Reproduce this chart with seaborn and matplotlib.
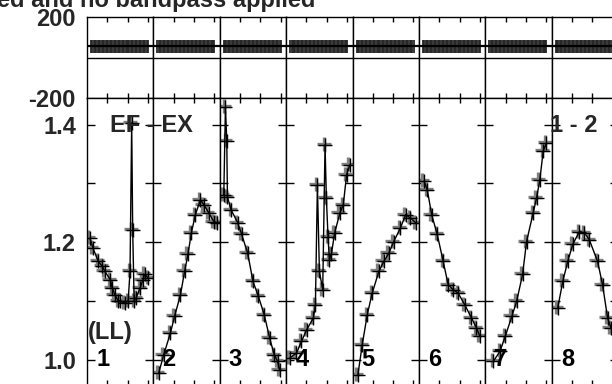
import numpy as np
import pandas as pd
import matplotlib
matplotlib.use("Agg")
import matplotlib.pyplot as plt
import matplotlib.transforms as mtransforms
import seaborn as sns

# ratio curves, one list per panel (phase within panel, ratio value)
panel_labels = ["1", "2", "3", "4", "5", "6", "7", "8"]

phase_1 = [0.045, 0.09, 0.17, 0.23, 0.27, 0.35, 0.38, 0.42, 0.47, 0.50, 0.57, 0.62,
           0.648, 0.673, 0.688, 0.71, 0.74, 0.80, 0.84, 0.87, 0.92]
ratio_1 = [1.207, 1.190, 1.167, 1.159, 1.150, 1.136, 1.122, 1.110, 1.100, 1.100, 1.096, 1.100,
           1.150, 1.403, 1.221, 1.100, 1.105, 1.122, 1.135, 1.145, 1.139]

phase_2 = [0.08, 0.155, 0.256, 0.32, 0.407, 0.47, 0.52, 0.572, 0.633, 0.708, 0.758, 0.833, 0.91, 0.96]
ratio_2 = [0.977, 1.008, 1.045, 1.074, 1.110, 1.150, 1.179, 1.216, 1.247, 1.272, 1.264, 1.250, 1.235, 1.233]

phase_3 = [0.06, 0.085, 0.105, 0.115, 0.17, 0.27, 0.33, 0.42, 0.50, 0.58, 0.67, 0.75, 0.82, 0.87, 0.90]
ratio_3 = [1.280, 1.430, 1.372, 1.277, 1.255, 1.233, 1.213, 1.181, 1.133, 1.108, 1.076, 1.037, 1.008, 0.997, 0.983]

phase_4 = [0.055, 0.155, 0.23, 0.31, 0.41, 0.44, 0.47, 0.50, 0.55, 0.585, 0.605, 0.63, 0.65, 0.68,
           0.73, 0.81, 0.86, 0.91, 0.96]
ratio_4 = [1.003, 1.011, 1.031, 1.051, 1.071, 1.093, 1.298, 1.150, 1.119, 1.366, 1.275, 1.209, 1.170, 1.179,
           1.216, 1.250, 1.264, 1.315, 1.332]

phase_5 = [0.08, 0.145, 0.22, 0.295, 0.395, 0.47, 0.545, 0.62, 0.72, 0.80, 0.87, 0.95]
ratio_5 = [0.974, 1.025, 1.076, 1.113, 1.150, 1.167, 1.181, 1.201, 1.224, 1.247, 1.241, 1.233]

phase_6 = [0.075, 0.125, 0.19, 0.275, 0.365, 0.44, 0.515, 0.59, 0.69, 0.79, 0.865, 0.915]
ratio_6 = [1.304, 1.289, 1.247, 1.213, 1.167, 1.127, 1.119, 1.113, 1.093, 1.071, 1.054, 1.040]

phase_7 = [0.12, 0.22, 0.30, 0.40, 0.47, 0.56, 0.62, 0.72, 0.77, 0.82, 0.87, 0.92]
ratio_7 = [0.997, 1.014, 1.040, 1.074, 1.099, 1.145, 1.201, 1.250, 1.275, 1.306, 1.355, 1.369]

phase_8 = [0.09, 0.165, 0.24, 0.315, 0.415, 0.49, 0.565, 0.69, 0.765, 0.84, 0.89]
ratio_8 = [1.088, 1.133, 1.167, 1.196, 1.218, 1.216, 1.204, 1.167, 1.127, 1.071, 1.054]

phases = [phase_1, phase_2, phase_3, phase_4, phase_5, phase_6, phase_7, phase_8]
ratios = [ratio_1, ratio_2, ratio_3, ratio_4, ratio_5, ratio_6, ratio_7, ratio_8]

# residual strip on top (same in every panel)
resid_phase = [0.06, 0.08, 0.10, 0.12, 0.14, 0.16, 0.18, 0.20, 0.22, 0.24, 0.26, 0.28, 0.30,
               0.32, 0.34, 0.36, 0.38, 0.40, 0.42, 0.44, 0.46, 0.48, 0.50, 0.52, 0.54, 0.56,
               0.58, 0.60, 0.62, 0.64, 0.66, 0.68, 0.70, 0.72, 0.74, 0.76, 0.78, 0.80, 0.82,
               0.84, 0.86, 0.88, 0.90, 0.92]
resid_level = 55
resid_err = 31

rows = []
for lab, ph, ra in zip(panel_labels, phases, ratios):
    for p, r in zip(ph, ra):
        rows.append({"panel": lab, "phase": p, "ratio": r})
df = pd.DataFrame(rows)

sns.set_theme(style="white")
plt.rcParams["font.family"] = ["Liberation Sans", "DejaVu Sans"]
plt.rcParams["font.weight"] = "bold"

W, H = 612, 384
fig = plt.figure(figsize=(W / 100, H / 100), dpi=100)

pw = 66.4
x0 = 87
for i, lab in enumerate(panel_labels):
    left = (x0 + i * pw) / W
    ax_top = fig.add_axes([left, 1 - 98 / H, pw / W, 81 / H])
    ax_bot = fig.add_axes([left, -1 / H, pw / W, 287 / H])

    # top strip
    ax_top.errorbar(resid_phase, [resid_level] * len(resid_phase), yerr=resid_err,
                    fmt="none", ecolor="0.15", elinewidth=1.3, capsize=0)
    ax_top.axhline(resid_level, color="black", lw=1.6)
    ax_top.axhline(0, color="black", lw=1.0)
    ax_top.set_ylim(-200, 200)
    ax_top.set_xlim(0, 1)
    ax_top.set_yticks([-200, 200])
    ax_top.set_xticks([0.305, 0.61, 0.915])
    ax_top.set_xticklabels([])
    ax_top.tick_params(axis="x", which="both", direction="in", length=3.5, width=1,
                       top=True, bottom=True, color="black")
    ax_top.tick_params(axis="y", direction="in", length=0, pad=8, labelsize=17)
    if i == 0:
        ax_top.set_yticklabels(["-200", "200"], fontweight="bold")
    else:
        ax_top.set_yticklabels([])

    # ratio curve
    sub = df[df["panel"] == lab]
    shadow = mtransforms.offset_copy(ax_bot.transData, fig=fig, x=-1.5, y=1.0, units="dots")
    ax_bot.plot(sub["phase"], sub["ratio"], linestyle="none", marker="+", markersize=10,
                markeredgewidth=2.4, color="0.5", transform=shadow)
    sns.lineplot(data=sub, x="phase", y="ratio", ax=ax_bot, sort=False, estimator=None,
                 color="black", linewidth=1.0, marker="+", markersize=10,
                 markeredgewidth=1.0, markeredgecolor="black")
    ax_bot.set_xlim(0, 1)
    ax_bot.set_ylim(0.9566, 1.4455)
    ax_bot.set_xlabel("")
    ax_bot.set_ylabel("")
    ax_bot.set_xticks([0.305, 0.61, 0.915])
    ax_bot.set_xticklabels([])
    ax_bot.set_yticks([1.0, 1.2, 1.4])
    ax_bot.set_yticks([1.1, 1.3], minor=True)
    ax_bot.tick_params(axis="x", direction="in", length=3.5, width=1, top=True, bottom=True,
                       color="black")
    ax_bot.tick_params(axis="y", which="both", direction="in", length=6, width=1,
                       left=True, right=True, color="black", pad=8, labelsize=17)
    if i == 0:
        ax_bot.set_yticklabels(["1.0", "1.2", "1.4"], fontweight="bold")
    else:
        ax_bot.set_yticklabels([])

    for ax in (ax_top, ax_bot):
        for s in ax.spines.values():
            s.set_color("black")
            s.set_linewidth(1.0)

    # panel number
    ax_bot.text(9 / pw, 1.0, lab, transform=mtransforms.blended_transform_factory(ax_bot.transAxes, ax_bot.transData),
                ha="left", va="center", fontsize=17, fontweight="bold", color="black")

fig.text(110 / W, 1 - 125 / H, "EF - EX", ha="left", va="center", fontsize=17, fontweight="bold")
fig.text(550 / W, 1 - 125 / H, "1 - 2", ha="left", va="center", fontsize=17, fontweight="bold")
fig.text(88 / W, 1 - 333 / H, "(LL)", ha="left", va="center", fontsize=17, fontweight="bold")
fig.text(315 / W, 1 - 7.5 / H, "ed and no bandpass applied", ha="right", va="baseline",
         fontsize=17, fontweight="bold")

fig.savefig("out.png", dpi=100)
